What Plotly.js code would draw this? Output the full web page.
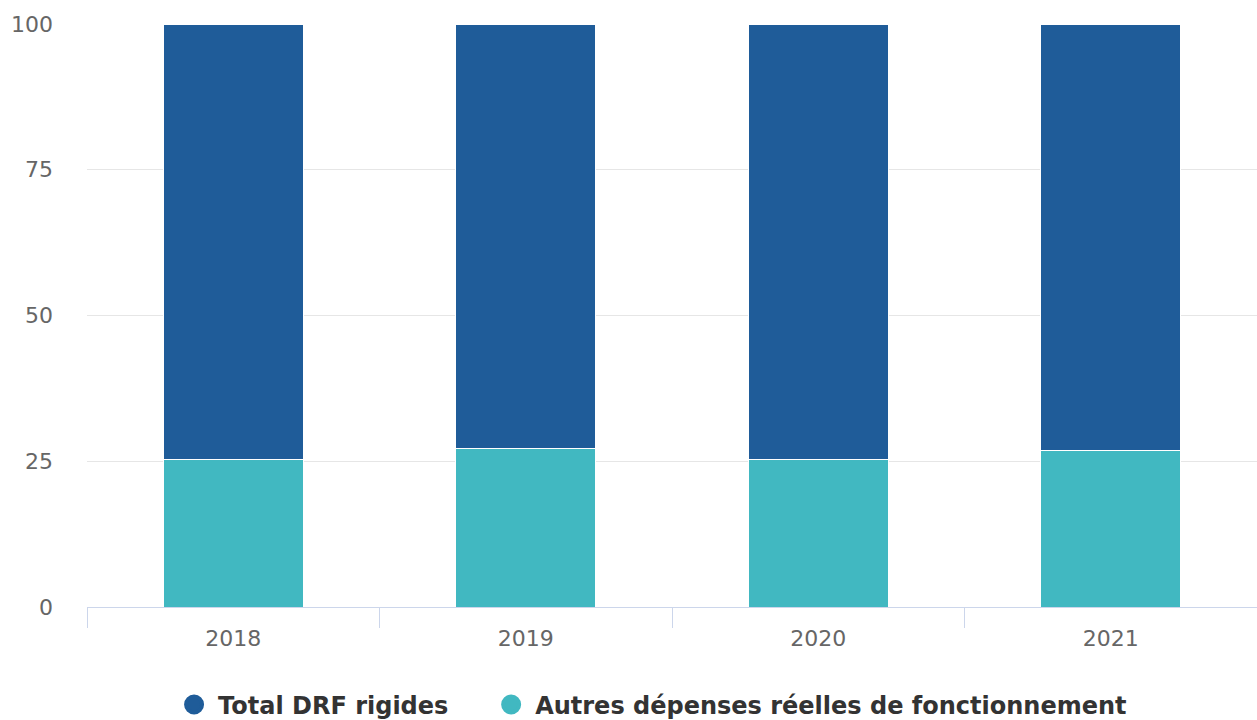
<!DOCTYPE html>
<html>
<head>
<meta charset="utf-8">
<script src="https://cdn.plot.ly/plotly-3.0.1.min.js"></script>
<style>html,body{margin:0;padding:0;background:#fff;}#chart{width:1257px;height:720px;}</style>
</head>
<body>
<div id="chart"></div>
<script>
const years = ['2018', '2019', '2020', '2021'];
const totalDrfRigides = [74.7, 72.8, 74.7, 73.2];
const autresDepenses = [25.3, 27.2, 25.3, 26.8];
const seriesNames = ['Total DRF rigides', 'Autres dépenses réelles de fonctionnement'];
const seriesColors = ['#1f5c99', '#41b8c1'];
const yTicks = [0, 25, 50, 75, 100];

const traces = [
  {type: 'bar', x: years, y: autresDepenses, name: seriesNames[1], marker: {color: seriesColors[1], line: {color: '#ffffff', width: 1}}, showlegend: false, hoverinfo: 'y'},
  {type: 'bar', x: years, y: totalDrfRigides, name: seriesNames[0], marker: {color: seriesColors[0], line: {color: '#ffffff', width: 1}}, showlegend: false, hoverinfo: 'y'},
  {type: 'scatter', mode: 'markers', x: [null], y: [null], name: seriesNames[0], legend: 'legend', marker: {color: seriesColors[0], size: 20, symbol: 'circle', line: {color: seriesColors[0], width: 4}}},
  {type: 'scatter', mode: 'markers', x: [null], y: [null], name: seriesNames[1], legend: 'legend2', marker: {color: seriesColors[1], size: 20, symbol: 'circle', line: {color: seriesColors[1], width: 4}}}
];

const legendFont = {family: 'DejaVu Sans, sans-serif', size: 24, color: '#333333', weight: 'bold'};
const layout = {
  width: 1257, height: 720,
  margin: {l: 87, r: 0, t: 24, b: 113, autoexpand: false},
  paper_bgcolor: '#ffffff', plot_bgcolor: '#ffffff',
  font: {family: 'DejaVu Sans, sans-serif', color: '#666666', size: 22},
  barmode: 'stack',
  bargap: 0.52,
  showlegend: true,
  legend: {orientation: 'h', x: 0.071, xanchor: 'left', y: -0.168, yanchor: 'middle',
           font: legendFont, itemsizing: 'trace', itemwidth: 38},
  legend2: {orientation: 'h', x: 0.342, xanchor: 'left', y: -0.168, yanchor: 'middle',
           font: legendFont, itemsizing: 'trace', itemwidth: 38},
  xaxis: {type: 'category', categoryarray: years, tickson: 'boundaries', ticks: 'outside', ticklen: 20,
          tickcolor: '#ccd6eb', tickwidth: 1, showline: true, linecolor: '#ccd6eb', linewidth: 1,
          showgrid: false, zeroline: false, ticklabelstandoff: 12,
          tickfont: {size: 22, color: '#666666'}, fixedrange: true},
  yaxis: {range: [0, 100], tickvals: yTicks, ticktext: yTicks.map(String), showgrid: true, gridcolor: '#e6e6e6',
          gridwidth: 1, zeroline: false, showline: false, ticks: '', ticklabelstandoff: 33,
          tickfont: {size: 22, color: '#666666'}, fixedrange: true}
};

Plotly.newPlot('chart', traces, layout, {displayModeBar: false, staticPlot: true});
</script>
</body>
</html>
